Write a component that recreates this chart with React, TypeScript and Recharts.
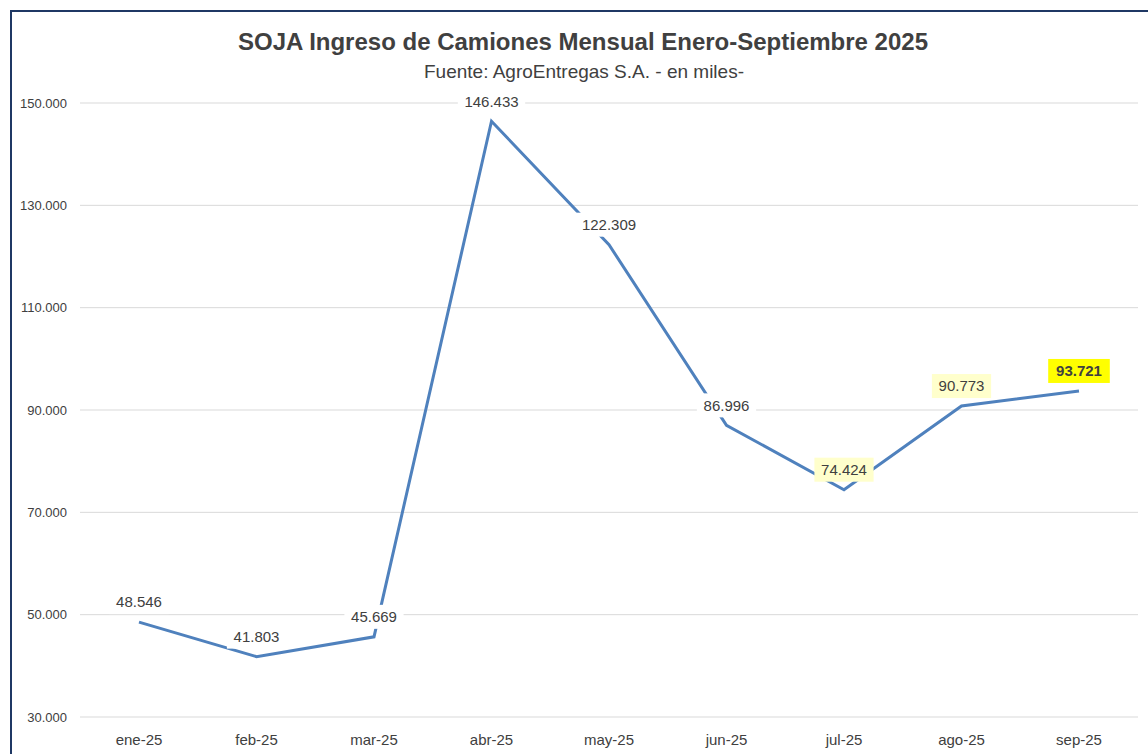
import React from 'react';
import { LineChart, Line, XAxis, YAxis, CartesianGrid, LabelList } from 'recharts';

const months = ['ene-25', 'feb-25', 'mar-25', 'abr-25', 'may-25', 'jun-25', 'jul-25', 'ago-25', 'sep-25'];
const camiones = [48546, 41803, 45669, 146433, 122309, 86996, 74424, 90773, 93721];
const yTicks = [30000, 50000, 70000, 90000, 110000, 130000, 150000];

const data = months.map((mes, i) => ({ mes, camiones: camiones[i] }));

const fmt = (v: number) => String(v).replace(/\B(?=(\d{3})+(?!\d))/g, '.');

const FONT = '"Liberation Sans", Arial, sans-serif';

const ValueLabel = (props: any) => {
  const { x, y, value, index } = props;
  const text = fmt(value);
  const last = index === months.length - 1;
  const pale = index === 6 || index === 7;
  const fill = last ? '#FFFF00' : pale ? '#FFFFCC' : '#ffffff';
  const charW = last ? 8.6 : 8.2;
  const w = text.length * charW + 10;
  const cy = y - 20;
  return (
    <g>
      <rect x={x - w / 2} y={cy - 12} width={w} height={24} fill={fill} />
      <text
        x={x}
        y={cy}
        dy="0.35em"
        textAnchor="middle"
        fontFamily={FONT}
        fontSize={15}
        fontWeight={last ? 700 : 400}
        fill="#404040"
      >
        {text}
      </text>
    </g>
  );
};

const App: React.FC = () => {
  return (
    <div style={{ position: 'absolute', left: 0, top: 0, width: 1148, height: 754, overflow: 'hidden', background: '#fff' }}>
      <div
        style={{
          position: 'absolute',
          left: 10,
          top: 10,
          width: 1138,
          height: 744,
          borderLeft: '2px solid #1F3864',
          borderTop: '2px solid #1F3864',
          boxSizing: 'border-box',
        }}
      />
      <div
        style={{
          position: 'absolute',
          left: 18,
          width: 1130,
          top: 26,
          textAlign: 'center',
          fontFamily: FONT,
          fontWeight: 700,
          fontSize: 24,
          color: '#404040',
          lineHeight: '32px',
        }}
      >
        SOJA Ingreso de Camiones Mensual Enero-Septiembre 2025
      </div>
      <div
        style={{
          position: 'absolute',
          left: 10,
          width: 1148,
          top: 60,
          textAlign: 'center',
          fontFamily: FONT,
          fontSize: 19,
          color: '#404040',
          lineHeight: '24px',
        }}
      >
        Fuente: AgroEntregas S.A. - en miles-
      </div>
      <div style={{ position: 'absolute', left: 0, top: 0 }}>
        <LineChart width={1148} height={754} data={data} margin={{ top: 103, right: 10, left: 0, bottom: 7 }}>
          <CartesianGrid vertical={false} stroke="#d9d9d9" strokeWidth={1} />
          <XAxis
            dataKey="mes"
            axisLine={false}
            tickLine={false}
            tickSize={0}
            tickMargin={17}
            height={30}
            interval={0}
            padding={{ left: 59, right: 59 }}
            tick={{ fill: '#404040', fontSize: 15, fontFamily: FONT }}
          />
          <YAxis
            width={80}
            domain={[30000, 150000]}
            ticks={yTicks}
            axisLine={false}
            tickLine={false}
            tickSize={0}
            tickMargin={13}
            tickFormatter={fmt}
            tick={{ fill: '#404040', fontSize: 13, fontFamily: FONT }}
          />
          <Line
            type="linear"
            dataKey="camiones"
            stroke="#4F81BD"
            strokeWidth={3}
            dot={false}
            isAnimationActive={false}
          >
            <LabelList dataKey="camiones" content={ValueLabel} />
          </Line>
        </LineChart>
      </div>
    </div>
  );
};

export default App;
